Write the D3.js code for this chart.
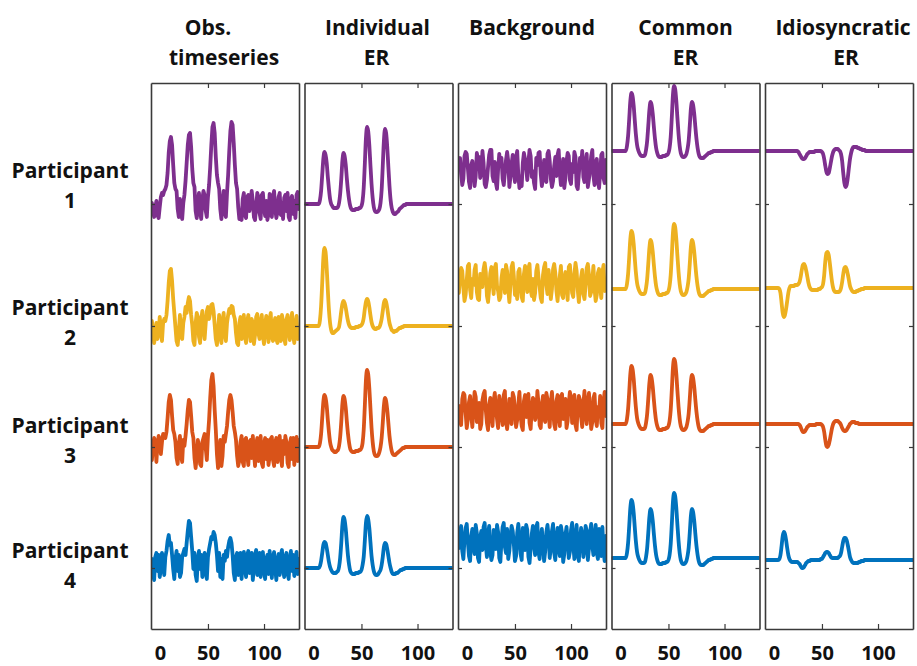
<!DOCTYPE html>
<html><head><meta charset="utf-8">
<script src="https://cdn.jsdelivr.net/npm/d3@7"></script>
<style>
html,body{margin:0;padding:0;background:#fff;}
svg{display:block;}
text{font-family:'Open Sans',sans-serif;font-weight:700;fill:#111;}
</style>
</head><body>
<svg id="chart" width="917" height="666"></svg>
<script>
// ---------------- DATA ----------------
const panelTitles = [["Obs.","timeseries"],["Individual","ER"],["Background"],["Common","ER"],["Idiosyncratic","ER"]];
const participants = ["1","2","3","4"];
const xTicks = [0,50,100];
const colors = ["#7E2F8E","#EDB120","#D95319","#0072BD"];

// vertical offsets (baselines) of each participant's trace, per panel
const obsBase  = [424,302,179,64];
const indBase  = [425,303,182,61];
const bgBase   = [459,346,218,86];
const comBase  = [478,340,205,71];
const idioBase = [478,341,205,69];
const yTickVals = [61,182,303,425];

// Observed timeseries
const obs1 = [2,-6,-12,-3,4,-10,-13,-2,8,12,10,14,
 16,20,32,52,64,68,60,40,22,16,14,-4,
 -12,6,-8,-14,2,10,24,42,60,70,72,58,
 36,22,18,-6,-13,4,12,-8,-14,6,14,10,
 -6,-12,8,20,38,60,78,82,72,48,30,22,
 16,-4,-14,2,14,-8,-12,12,30,54,74,83,
 80,62,40,22,16,-2,-14,-9,-15,6,12,-10,
 -13,8,10,-6,3,14,4,-12,-15,-2,12,8,
 -8,-14,10,12,-3,-11,4,-15,-9,11,6,-12,
 9,14,-4,-13,-7,8,12,-10,2,-14,7,10,
 -6,12,-12,-15,6,9,-9,4,-13,10,13,-4];
const obs2 = [6,-4,-16,-8,4,-12,-6,10,-2,-14,4,8,
 6,12,26,44,56,58,46,28,14,0,-14,-18,
 -6,12,-8,-12,4,10,20,14,24,30,26,12,
 2,-14,-18,4,14,10,-10,-16,8,16,-2,-12,
 4,16,20,8,14,22,23,16,2,-12,-18,-4,
 12,-8,-16,6,14,-6,-14,4,12,18,14,21,
 20,12,8,-6,-16,-18,4,10,-12,-4,12,-10,
 -16,6,12,-2,-14,8,4,-17,-8,10,13,-6,
 -12,5,12,-9,-17,2,11,-4,-15,8,14,-10,
 -14,4,9,-12,-16,10,-3,-14,12,6,-11,-17,
 7,12,-4,-13,5,14,-8,-16,3,11,-12,-5];
const obs3 = [-10,4,12,8,-12,6,14,10,-4,8,16,14,
 12,18,32,48,55,50,34,20,16,8,-8,-14,
 6,14,-6,-12,10,4,14,26,40,50,48,34,
 18,12,-8,-18,-6,10,4,-14,-16,8,12,16,
 2,-10,14,30,52,70,76,64,40,20,-4,-18,
 -8,10,-16,-6,14,8,16,24,38,50,55,50,
 38,24,18,10,-6,-16,-10,8,14,-12,-16,10,
 12,-4,-15,8,10,-8,14,-2,-16,6,12,-11,
 -4,14,-13,-17,6,12,-9,10,-15,-6,11,13,
 -10,-16,8,12,-12,4,14,-6,-16,9,-4,14,
 8,-13,-17,6,12,-9,12,-15,4,13,-11,10];
const obs4 = [6,-8,-15,8,12,-6,10,-12,-4,12,4,-10,
 8,14,24,30,20,22,10,-4,-14,6,14,-6,
 10,-12,-8,8,12,16,10,22,34,44,42,28,
 14,-4,12,-10,-16,6,14,-4,10,-12,4,12,
 -8,-14,8,16,22,28,26,33,30,22,10,-6,
 12,-12,6,-14,10,4,14,8,18,24,27,22,
 10,-8,-15,8,12,-10,-2,12,-14,6,13,-4,
 -12,10,14,-8,4,12,-15,-2,10,15,-10,-2,
 12,-12,8,13,-6,-14,6,10,-9,14,0,-13,
 8,13,-4,-15,5,11,-10,10,15,-4,-12,8,
 12,-8,-14,6,14,-6,10,-11,4,13,-9,6];

// Individual ER
const ind1 = [0,0,0,0,0,0,0,0,0,0,0,0,
 0,4,13,29,45,52,49,41,27,15,5,0,
 -2,-4,-4,-4,-4,-3,1,10,25,43,51,48,
 39,25,13,4,-2,-5,-6,-6,-6,-5,-5,-5,
 -4,-4,-2,3,16,40,66,77,73,59,39,20,
 6,-3,-7,-8,-8,-7,-5,1,14,38,63,75,
 71,57,37,18,4,-4,-8,-10,-10,-9,-8,-7,
 -5,-4,-3,-2,-1,-1,0,0,0,0,0,0,
 0,0,0,0,0,0,0,0,0,0,0,0,
 0,0,0,0,0,0,0,0,0,0,0,0,
 0,0,0,0,0,0,0,0,0,0,0,0];
const ind2 = [0,0,0,0,0,0,0,0,0,0,0,0,
 0,6,20,43,68,78,74,58,36,16,3,-4,
 -7,-7,-6,-5,-4,-3,-1,6,15,22,25,23,
 18,11,5,1,-1,-2,-2,-2,-2,-1,-1,-1,
 0,0,1,3,8,17,24,27,25,19,11,4,
 0,-2,-3,-3,-2,-2,-1,2,7,15,23,26,
 24,18,10,3,-1,-4,-5,-6,-5,-5,-4,-3,
 -2,-2,-1,-1,0,0,0,0,0,0,0,0,
 0,0,0,0,0,0,0,0,0,0,0,0,
 0,0,0,0,0,0,0,0,0,0,0,0,
 0,0,0,0,0,0,0,0,0,0,0,0];
const ind3 = [0,0,0,0,0,0,0,0,0,0,0,0,
 0,4,13,29,45,52,49,41,27,15,5,0,
 -3,-4,-5,-5,-4,-3,1,10,25,43,51,48,
 39,25,13,4,-2,-4,-5,-5,-5,-4,-4,-4,
 -3,-3,-1,4,17,41,67,77,73,59,39,19,
 5,-4,-8,-9,-9,-8,-5,0,9,24,41,49,
 46,37,24,11,2,-4,-7,-8,-8,-7,-6,-5,
 -4,-3,-2,-1,-1,0,0,0,0,0,0,0,
 0,0,0,0,0,0,0,0,0,0,0,0,
 0,0,0,0,0,0,0,0,0,0,0,0,
 0,0,0,0,0,0,0,0,0,0,0,0];
const ind4 = [0,0,0,0,0,0,0,0,0,0,0,0,
 0,2,7,15,23,26,25,20,13,6,1,-2,
 -4,-5,-5,-5,-4,-3,1,10,25,43,51,48,
 39,25,12,3,-3,-5,-6,-6,-6,-5,-5,-5,
 -4,-4,-2,3,11,27,45,52,49,40,26,12,
 3,-3,-6,-7,-7,-6,-4,-2,3,11,21,25,
 24,19,12,5,0,-4,-6,-6,-6,-5,-5,-4,
 -3,-2,-2,-1,-1,0,0,0,0,0,0,0,
 0,0,0,0,0,0,0,0,0,0,0,0,
 0,0,0,0,0,0,0,0,0,0,0,0,
 0,0,0,0,0,0,0,0,0,0,0,0];

// Background
const bg1 = [6,12,-4,-15,-9,14,18,16,2,-12,-18,5,
 9,-3,-16,-6,17,11,13,-8,-2,19,7,-14,
 -17,-10,3,15,20,20,-6,-11,8,-13,-19,1,
 16,4,12,-9,-15,-3,10,18,9,-17,-7,6,
 15,-2,-12,13,19,-5,-18,-14,-16,7,17,11,
 2,-10,8,20,14,-7,-1,-13,-19,12,5,17,
 18,-4,-16,-8,10,3,-12,16,19,9,-9,-17,
 -11,4,13,-6,15,20,-3,-15,-5,11,-18,-8,
 9,17,14,-10,-14,6,-2,18,13,-16,-19,-4,
 12,3,19,-7,-12,8,16,-17,-9,1,14,20,
 -6,-15,7,11,-11,-18,-3,15,17,-8,-13,10];
const bg2 = [-10,8,15,12,-5,-18,-12,3,17,19,-7,-15,
 4,-2,13,18,-9,-16,-17,9,6,-4,14,20,
 11,-13,-19,-6,10,16,2,-11,15,19,-3,-8,
 -17,-14,5,13,8,-10,18,12,-6,-19,-2,16,
 20,7,-12,-5,-16,11,14,-1,-14,-18,9,17,
 3,-9,15,19,-7,-13,4,-17,-10,12,18,6,
 -4,-15,-19,8,16,20,-2,-11,13,1,-16,-6,
 14,19,10,-8,-18,-3,7,17,-12,-15,5,11,
 -1,-17,16,18,3,-10,-14,9,20,12,-7,-19,
 -5,6,13,-11,-16,-2,15,19,8,-13,-9,4,
 17,-6,-18,-12,10,14,-4,-15,11,18,-8,2];
const bg3 = [5,-9,-14,12,18,16,-2,-17,-8,9,15,-4,
 -16,3,19,14,-11,-6,8,-18,-13,11,17,20,
 1,-12,-19,6,13,-3,-15,10,18,4,-8,-17,
 15,9,-5,-14,16,20,-10,-18,-7,12,2,-13,
 18,14,-1,-16,-9,7,19,-4,-15,-19,10,16,
 -6,5,17,-12,-18,3,13,11,-9,-3,20,8,
 -14,-17,6,15,-7,-11,18,12,-2,-16,9,19,
 2,-13,-18,10,16,-5,-15,14,17,-8,-1,12,
 -17,-10,8,19,13,-12,-4,16,-14,-19,5,15,
 11,-6,-16,7,20,-3,-13,9,18,1,-18,-11,
 13,17,-8,-15,4,-2,15,-12,-17,10,19,-5];
const bg4 = [-5,11,17,-8,-16,4,15,19,1,-13,-18,7,
 14,-3,-11,18,10,-15,-19,6,12,-7,16,20,
 -2,-14,9,17,-9,-17,-12,13,5,-6,18,11,
 -15,-19,3,16,20,-4,-10,14,-16,-8,8,17,
 12,-1,-18,-13,10,19,6,-11,-17,15,2,-7,
 18,13,-14,-20,-5,9,17,-3,-12,16,20,-9,
 -16,4,14,-2,-18,-8,11,18,7,-15,-4,12,
 19,-10,-17,5,15,-6,-13,17,10,-19,-11,8,
 16,2,-15,-9,13,20,-1,-16,6,18,-12,-18,
 3,15,9,-14,-7,17,12,-17,-5,11,19,-3,
 -12,8,18,-10,-16,14,4,-13,16,-8,-18,7];

// Common ER (shared by all participants)
const commonER = [0,0,0,0,0,0,0,0,0,0,0,0,
 0,5,15,32,50,58,55,45,30,16,6,1,
 -2,-4,-5,-5,-5,-4,1,10,25,41,49,46,
 37,24,12,3,-2,-5,-6,-6,-6,-5,-5,-5,
 -4,-4,-2,3,14,34,56,65,62,50,33,17,
 5,-2,-5,-6,-6,-5,-3,2,10,25,42,49,
 46,37,24,12,3,-3,-6,-7,-7,-7,-6,-5,
 -4,-3,-2,-2,-1,-1,0,0,0,0,0,0,
 0,0,0,0,0,0,0,0,0,0,0,0,
 0,0,0,0,0,0,0,0,0,0,0,0,
 0,0,0,0,0,0,0,0,0,0,0,0];

// Idiosyncratic ER
const idio1 = [0,0,0,0,0,0,0,0,0,0,0,0,
 0,0,0,0,0,0,0,0,0,0,0,0,
 0,0,0,0,0,-1,-3,-5,-7,-8,-8,-7,
 -5,-3,-2,-1,-1,-1,-1,-1,0,0,0,0,
 0,0,-1,-3,-8,-15,-21,-23,-22,-17,-11,-5,
 -1,1,2,2,2,1,0,-3,-10,-22,-32,-36,
 -34,-27,-17,-8,-2,2,4,4,4,4,3,3,
 2,2,1,1,1,0,0,0,0,0,0,0,
 0,0,0,0,0,0,0,0,0,0,0,0,
 0,0,0,0,0,0,0,0,0,0,0,0,
 0,0,0,0,0,0,0,0,0,0,0,0];
const idio2 = [0,0,0,0,0,0,0,0,0,0,0,0,
 -1,-5,-15,-25,-29,-27,-21,-13,-5,0,2,2,
 2,2,3,3,3,4,6,11,18,23,24,22,
 17,11,5,1,-1,-2,-2,-2,-2,-2,-2,-1,
 -1,0,1,4,13,27,35,36,33,25,15,6,
 0,-3,-4,-4,-4,-4,-3,0,6,14,20,21,
 19,14,8,2,-1,-3,-4,-4,-4,-3,-3,-2,
 -2,-1,-1,-1,0,0,0,0,0,0,0,0,
 0,0,0,0,0,0,0,0,0,0,0,0,
 0,0,0,0,0,0,0,0,0,0,0,0,
 0,0,0,0,0,0,0,0,0,0,0,0];
const idio3 = [0,0,0,0,0,0,0,0,0,0,0,0,
 0,0,0,0,0,0,0,0,0,0,0,0,
 0,0,0,0,0,0,-1,-3,-6,-8,-8,-7,
 -5,-3,-2,-1,-1,-1,-1,-1,-1,0,0,0,
 0,0,-1,-3,-8,-16,-22,-23,-21,-16,-10,-4,
 0,2,3,3,3,2,1,-1,-4,-6,-7,-7,
 -6,-4,-2,0,1,2,2,2,1,1,1,0,
 0,0,0,0,0,0,0,0,0,0,0,0,
 0,0,0,0,0,0,0,0,0,0,0,0,
 0,0,0,0,0,0,0,0,0,0,0,0,
 0,0,0,0,0,0,0,0,0,0,0,0];
const idio4 = [0,0,0,0,0,0,0,0,0,0,0,0,
 1,5,14,24,28,26,20,12,5,1,-1,-2,
 -2,-2,-2,-2,-2,-3,-4,-6,-8,-8,-7,-5,
 -3,-2,-1,-1,0,0,0,0,0,0,0,0,
 0,1,1,3,5,7,8,8,7,5,3,2,
 2,2,2,2,2,3,4,7,13,19,22,22,
 20,15,9,3,0,-2,-3,-3,-3,-3,-3,-2,
 -2,-1,-1,-1,0,0,0,0,0,0,0,0,
 0,0,0,0,0,0,0,0,0,0,0,0,
 0,0,0,0,0,0,0,0,0,0,0,0,
 0,0,0,0,0,0,0,0,0,0,0,0];

// ---------------- LAYOUT ----------------
const panels = [
  {series:[obs1,obs2,obs3,obs4], base:obsBase, smooth:false, titleDx:[-17,-1]},
  {series:[ind1,ind2,ind3,ind4], base:indBase, smooth:true, titleDx:[-1,-2]},
  {series:[bg1,bg2,bg3,bg4], base:bgBase, smooth:false, titleDx:[0]},
  {series:[commonER,commonER,commonER,commonER], base:comBase, smooth:true, titleDx:[0,0]},
  {series:[idio1,idio2,idio3,idio4], base:idioBase, smooth:true, titleDx:[4,7]}
];

const svg = d3.select('#chart');
const plotTop = 83, plotBottom = 629, pw = 148;
const lefts = panels.map((p,i)=>151 + i*153.5);
const y = d3.scaleLinear().domain([0,546]).range([plotBottom, plotTop]);
const axisColor = '#3a3a3a';

panels.forEach((p,i)=>{
  const L = lefts[i];
  const x = d3.scaleLinear().domain([-0.8,131.2]).range([L, L+pw]);
  const g = svg.append('g');
  g.append('clipPath').attr('id','clip'+i).append('rect')
    .attr('x',L).attr('y',plotTop).attr('width',pw).attr('height',plotBottom-plotTop);
  const lg = g.append('g').attr('clip-path','url(#clip'+i+')');
  p.series.forEach((s,j)=>{
    const line = d3.line()
      .x((d,k)=>x(k))
      .y(d=>y(p.base[j]+d))
      .curve(p.smooth ? d3.curveMonotoneX : d3.curveLinear);
    lg.append('path').attr('d', line(s))
      .attr('fill','none').attr('stroke',colors[j])
      .attr('stroke-width', 3.8)
      .attr('stroke-linejoin','round').attr('stroke-linecap','round');
  });

  // axes (MATLAB box style, inward ticks)
  const bottom = g.append('g').attr('transform',`translate(0,${plotBottom})`)
    .call(d3.axisBottom(x).tickValues(xTicks).tickSize(-5).tickSizeOuter(0).tickPadding(17).tickFormat(d3.format('d')));
  bottom.selectAll('text').style('font-size','20px').attr('fill','#111')
    .attr('dx',(d)=> d===0 ? 8 : 0);
  const topAx = g.append('g').attr('transform',`translate(0,${plotTop})`)
    .call(d3.axisTop(x).tickValues(xTicks).tickSize(-5).tickSizeOuter(0).tickFormat(''));
  const leftAx = g.append('g').attr('transform',`translate(${L},0)`)
    .call(d3.axisLeft(y).tickValues(yTickVals).tickSize(-4).tickSizeOuter(0).tickFormat(''));
  const rightAx = g.append('g').attr('transform',`translate(${L+pw},0)`)
    .call(d3.axisRight(y).tickValues(yTickVals).tickSize(-4).tickSizeOuter(0).tickFormat(''));
  [bottom,topAx,leftAx,rightAx].forEach(a=>{
    a.select('.domain').attr('stroke',axisColor).attr('stroke-width',1.6);
    a.selectAll('.tick line').attr('stroke',axisColor).attr('stroke-width',1.2);
  });
  bottom.selectAll('.tick line').filter(d=>d===0).remove();
  topAx.selectAll('.tick line').filter(d=>d===0).remove();

  // titles
  const cx = L + pw/2;
  panelTitles[i].forEach((t,k)=>{
    svg.append('text').attr('x', cx + p.titleDx[k]).attr('y', 35 + k*30)
      .attr('text-anchor','middle').style('font-size','21px').text(t);
  });
});

// participant labels
const rowLabelY = [178, 315, 433, 558];
participants.forEach((p,j)=>{
  svg.append('text').attr('x',70).attr('y',rowLabelY[j]).attr('text-anchor','middle')
    .style('font-size','21px').text('Participant');
  svg.append('text').attr('x',70).attr('y',rowLabelY[j]+30).attr('text-anchor','middle')
    .style('font-size','21px').text(p);
});
</script>
</body></html>
